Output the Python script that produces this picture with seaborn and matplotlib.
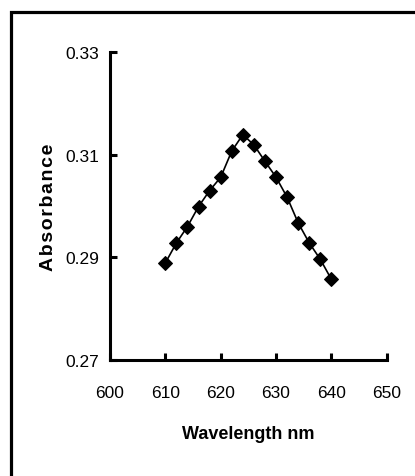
import matplotlib
matplotlib.use("Agg")
import matplotlib.pyplot as plt
from matplotlib.patches import Rectangle
import seaborn as sns
import pandas as pd

# Absorption spectrum around the band maximum
wavelength_nm = [610, 612, 614, 616, 618, 620, 622, 624, 626, 628, 630, 632, 634, 636, 638, 640]
absorbance = [0.2889, 0.2928, 0.2960, 0.2999, 0.3030, 0.3056, 0.3107, 0.3139,
              0.3119, 0.3087, 0.3056, 0.3017, 0.2967, 0.2928, 0.2896, 0.2857]
x_ticks = [600, 610, 620, 630, 640, 650]
y_ticks = [0.27, 0.29, 0.31, 0.33]

sns.set_style("ticks")
plt.rcParams["font.family"] = ["Liberation Sans", "DejaVu Sans"]
plt.rcParams["text.color"] = "black"
plt.rcParams["axes.labelcolor"] = "black"

df = pd.DataFrame({"Wavelength nm": wavelength_nm, "Absorbance": absorbance})

fig = plt.figure(figsize=(4.15, 4.77), dpi=100)
ax = fig.add_axes([0.265, 0.2432, 0.667, 0.6457])

sns.lineplot(data=df, x="Wavelength nm", y="Absorbance", ax=ax,
             color="black", linewidth=1.2, marker="D", markersize=7,
             markeredgecolor="black", markerfacecolor="black")

ax.set_xlim(600, 650)
ax.set_ylim(0.27, 0.33)
ax.set_xticks(x_ticks)
ax.set_yticks(y_ticks)
ax.set_xticklabels([str(t) for t in x_ticks])
ax.set_yticklabels([f"{t:.2f}" for t in y_ticks])

for side in ("top", "right"):
    ax.spines[side].set_visible(False)
for side in ("left", "bottom"):
    ax.spines[side].set_linewidth(2.2)
    ax.spines[side].set_color("black")

ax.tick_params(axis="both", direction="in", length=5, width=2.2, colors="black",
               labelsize=12.5, pad=8)
ax.tick_params(axis="x", pad=18)

ax.set_xlabel("Wavelength nm", fontsize=13, fontweight="bold", labelpad=18)
ax.set_ylabel("\u200a".join("Absorbance"), fontsize=14, fontweight="bold", labelpad=6)

# Outer frame around the figure
fig.patches.append(Rectangle((11 / 415, -0.2), 1.5, 1.2 - 12.5 / 477,
                             transform=fig.transFigure, fill=False,
                             edgecolor="black", linewidth=2.3, zorder=10))

fig.savefig("out.png", dpi=100)
